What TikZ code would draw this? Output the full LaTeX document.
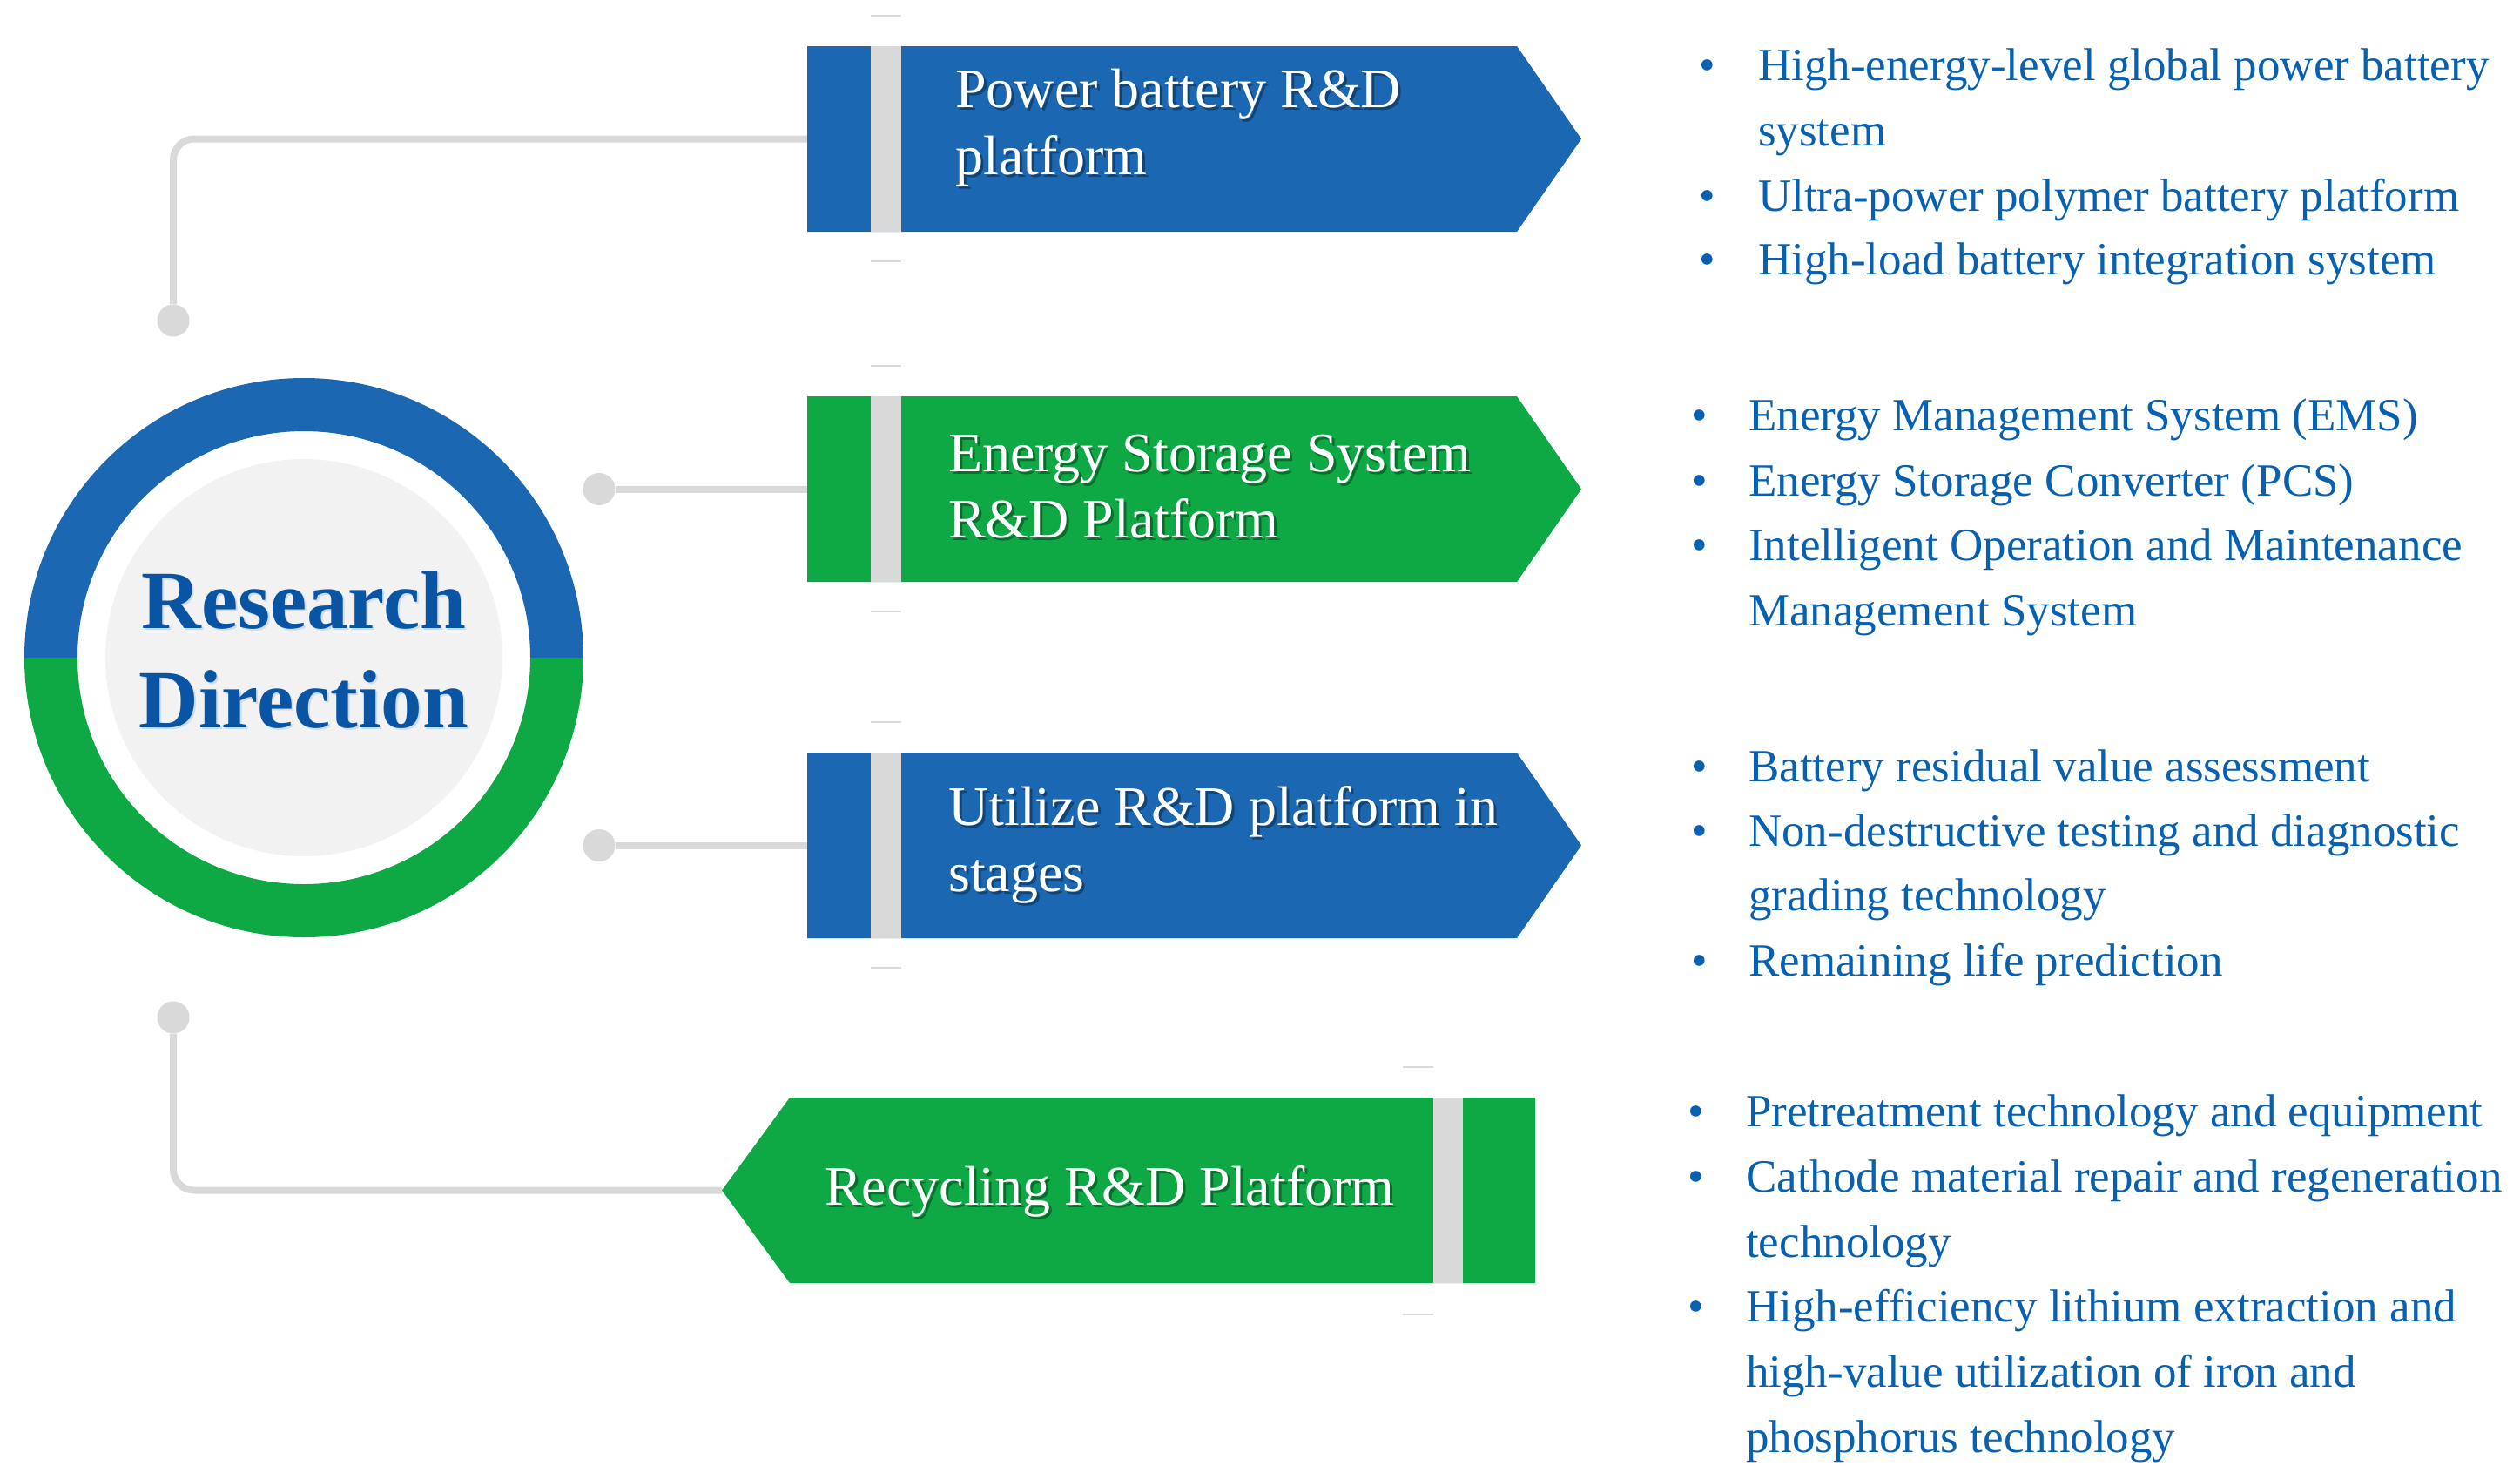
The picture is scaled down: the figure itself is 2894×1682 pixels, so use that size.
\documentclass[tikz,border=0pt]{standalone}
\usepackage{fontspec}
\setmainfont{Liberation Serif}
\definecolor{cblue}{RGB}{27,103,178}
\definecolor{cgreen}{RGB}{14,168,69}
\definecolor{cgray}{RGB}{217,217,217}
\definecolor{cpale}{RGB}{242,242,242}
\definecolor{ctext}{RGB}{8,96,176}
\definecolor{ctitle}{RGB}{10,84,164}
\newcommand\rboxshape[3]{%
  \fill[#1] (927,#2) -- (1742,#2) -- (1816,#2+106.5) -- (1742,#2+213) -- (927,#2+213) -- cycle;
  \fill[cgray] (1000,#2) rectangle (1035,#2+213);
  \draw[tickline] (1000,#2-35) -- (1035,#2-35);
  \draw[tickline] (1000,#2+247) -- (1035,#2+247);
}
\newcommand\boxline[4]{%
  \node[boxshadow] (#4s) at (#1+3,#2+3) {#3};
  \node[boxtext] (#4) at (#1,#2) {#3};
}
\newcommand\bitem[5]{% bullet x, text x, y, text, name
  \node[bul] (#5b) at (#1,#3) {\textbullet};
  \node[item] (#5) at (#2,#3) {#4};
}
\newcommand\citem[3]{% text x, y, text (continuation line)
  \node[item] at (#1,#2) {#3};
}
\begin{document}
\begin{tikzpicture}[x=1pt,y=-1pt,
  conn/.style={draw=cgray, line width=8pt, rounded corners=24pt},
  dotnode/.style={circle, fill=cgray, minimum size=37pt, inner sep=0pt},
  boxtext/.style={anchor=base west, inner sep=0pt, text=white, font=\fontsize{64}{77}\selectfont},
  boxshadow/.style={anchor=base west, inner sep=0pt, text=black, opacity=0.35, font=\fontsize{64}{77}\selectfont},
  item/.style={anchor=base west, inner sep=0pt, text=ctext, font=\fontsize{53}{64}\selectfont},
  bul/.style={anchor=base, inner sep=0pt, text=ctext, font=\fontsize{53}{64}\selectfont},
  tickline/.style={draw=cgray, line width=2pt},
  titletext/.style={anchor=base, inner sep=0pt, text=ctitle, font=\bfseries\fontsize{95}{114}\selectfont}
]
\useasboundingbox (0,0) rectangle (2894,1682);

% anchor coordinates of the platform boxes
\coordinate (b1) at (927,159.5);
\coordinate (b2) at (927,561.5);
\coordinate (b3) at (927,970.5);
\coordinate (b4) at (829,1366.5);

% connectors
\node[dotnode] (d1) at (199,368) {};
\node[dotnode] (d2) at (688,561.5) {};
\node[dotnode] (d3) at (688,970.5) {};
\node[dotnode] (d4) at (199,1168) {};
\draw[conn] (d1) |- (b1);
\draw[conn] (d2) -- (b2);
\draw[conn] (d3) -- (b3);
\draw[conn] (d4) |- (b4);

% central ring
\fill[cblue] (28,755) arc[start angle=180, end angle=360, radius=321]
  -- (609,755) arc[start angle=360, end angle=180, radius=260] -- cycle;
\fill[cgreen] (670,755) arc[start angle=0, end angle=180, radius=321]
  -- (89,755) arc[start angle=180, end angle=0, radius=260] -- cycle;
\fill[cpale] (349,755) circle[radius=228];
\node[titletext, text=ctitle!30, opacity=0.6] (t1s) at (351,723) {Research};
\node[titletext, text=ctitle!30, opacity=0.6] (t2s) at (351,837) {Direction};
\node[titletext] (t1) at (349,721) {Research};
\node[titletext] (t2) at (349,835) {Direction};

% platform boxes
\rboxshape{cblue}{53}{}
\rboxshape{cgreen}{455}{}
\rboxshape{cblue}{864}{}
\fill[cgreen] (829,1366.5) -- (907,1260) -- (1763,1260) -- (1763,1473) -- (907,1473) -- cycle;
\fill[cgray] (1646,1260) rectangle (1680,1473);
\draw[tickline] (1611,1225) -- (1646,1225);
\draw[tickline] (1611,1509) -- (1646,1509);

\boxline{1097}{123}{Power battery R\&D}{p1}
\boxline{1097}{200}{platform}{p1x}
\boxline{1089}{541}{Energy Storage System}{p2}
\boxline{1089}{617}{R\&D Platform}{p2x}
\boxline{1089}{947}{Utilize R\&D platform in}{p3}
\boxline{1089}{1023}{stages}{p3x}
\boxline{947}{1383}{Recycling R\&D Platform}{p4}

% lists
\bitem{1961}{2019}{92}{High-energy-level global power battery}{a1}
\citem{2019}{167}{system}
\bitem{1961}{2019}{242}{Ultra-power polymer battery platform}{a2}
\bitem{1961}{2019}{315}{High-load battery integration system}{a3}

\bitem{1952}{2008}{494}{Energy Management System (EMS)}{e1}
\bitem{1952}{2008}{569}{Energy Storage Converter (PCS)}{e2}
\bitem{1952}{2008}{643}{Intelligent Operation and Maintenance}{e3}
\citem{2008}{718}{Management System}

\bitem{1952}{2008}{897}{Battery residual value assessment}{u1}
\bitem{1952}{2008}{971}{Non-destructive testing and diagnostic}{u2}
\citem{2008}{1045}{grading technology}
\bitem{1952}{2008}{1120}{Remaining life prediction}{u3}

\bitem{1948}{2005}{1293}{Pretreatment technology and equipment}{r1}
\bitem{1948}{2005}{1368}{Cathode material repair and regeneration}{r2}
\citem{2005}{1443}{technology}
\bitem{1948}{2005}{1517}{High-efficiency lithium extraction and}{r3}
\citem{2005}{1592}{high-value utilization of iron and}
\citem{2005}{1667}{phosphorus technology}
\end{tikzpicture}
\end{document}
